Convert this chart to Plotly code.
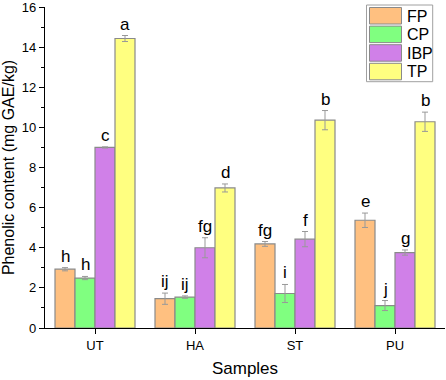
import plotly.graph_objects as go

samples = ["UT", "HA", "ST", "PU"]
series = ["FP", "CP", "IBP", "TP"]
values = {
    "FP": [2.93, 1.46, 4.19, 5.37],
    "CP": [2.49, 1.54, 1.72, 1.12],
    "IBP": [9.00, 4.00, 4.43, 3.76],
    "TP": [14.43, 6.98, 10.36, 10.28],
}
errors = {
    "FP": [0.08, 0.28, 0.12, 0.36],
    "CP": [0.08, 0.06, 0.45, 0.25],
    "IBP": [0.03, 0.50, 0.38, 0.13],
    "TP": [0.15, 0.20, 0.48, 0.48],
}
letters = {
    "FP": ["h", "ij", "fg", "e"],
    "CP": ["h", "ij", "i", "j"],
    "IBP": ["c", "fg", "f", "g"],
    "TP": ["a", "d", "b", "b"],
}
y_ticks = [0, 2, 4, 6, 8, 10, 12, 14, 16]
colors = {"FP": "#FFC080", "CP": "#80FF80", "IBP": "#D080E8", "TP": "#FFFF80"}

W, H = 446, 380
ML, MR, MT, MB = 45, 1, 7, 52
PW, PH = W - ML - MR, H - MT - MB
FONT = "Liberation Sans, Arial"


def px2paper(x, y):
    return (x - ML) / PW, (H - MB - y) / PH


fig = go.Figure()
for s in series:
    fig.add_trace(go.Bar(
        x=samples, y=values[s], name=s,
        marker=dict(color=colors[s], line=dict(color="#8a8a8a", width=1.2)),
        error_y=dict(type="data", array=errors[s], color="#999999", thickness=1, width=3),
    ))

# letter annotations above error bars
offsets = [-1.5, -0.5, 0.5, 1.5]
for k, s in enumerate(series):
    for i, cat in enumerate(samples):
        fig.add_annotation(
            x=i + offsets[k] * 0.2, y=values[s][i] + errors[s][i],
            xref="x", yref="y", text=letters[s][i], showarrow=False,
            yanchor="bottom", yshift=0,
            font=dict(family=FONT, size=17, color="black"),
        )

# custom legend (box + swatches)
x0, y0 = px2paper(366.5, 5)
x1, y1 = px2paper(432.7, 81.7)
fig.add_shape(type="rect", xref="paper", yref="paper", x0=x0, y0=y1, x1=x1, y1=y0,
              line=dict(color="#a0a0a0", width=1), fillcolor="white", layer="above")
for k, s in enumerate(series):
    top = 7.5 + k * 18.6
    sx0, sy0 = px2paper(369.5, top)
    sx1, sy1 = px2paper(401.5, top + 16.5)
    fig.add_shape(type="rect", xref="paper", yref="paper", x0=sx0, y0=sy1, x1=sx1, y1=sy0,
                  line=dict(color="#8a8a8a", width=1), fillcolor=colors[s], layer="above")
    tx, ty = px2paper(404.5, top + 8.5)
    fig.add_annotation(x=tx, y=ty, xref="paper", yref="paper", text=s, showarrow=False,
                       xanchor="left", yanchor="middle",
                       font=dict(family=FONT, size=16, color="black"))

fig.update_layout(
    width=W, height=H,
    margin=dict(l=ML, r=MR, t=MT, b=MB, autoexpand=False),
    paper_bgcolor="white", plot_bgcolor="white",
    barmode="group", bargap=0.2, bargroupgap=0,
    font=dict(family=FONT, size=13, color="black"),
    showlegend=False,
)
fig.update_xaxes(
    type="category", range=[-0.5, 3.5],
    showline=True, linecolor="black", linewidth=1.2,
    ticks="outside", ticklen=5, tickcolor="black",
    minor=dict(ticks="outside", ticklen=3, tickcolor="black", dtick=1),
    title=dict(text="Samples", font=dict(size=17), standoff=10),
    tickfont=dict(size=13),
    showgrid=False, mirror=False, automargin=False,
)
fig.update_yaxes(
    range=[0, 16.001], tickmode="array", tickvals=y_ticks,
    ticktext=[str(v) for v in y_ticks], ticklabeloverflow="allow",
    showline=True, linecolor="black", linewidth=1.2,
    ticks="outside", ticklen=5, tickcolor="black",
    minor=dict(ticks="outside", ticklen=3, tickcolor="black", tickmode="linear", tick0=1, dtick=2),
    title=dict(text="Phenolic content (mg GAE/kg)", font=dict(size=16), standoff=6),
    tickfont=dict(size=13),
    showgrid=False, zeroline=False, automargin=False,
)
fig.write_html("out.html", config={"displayModeBar": False},
               post_script="document.body.style.margin='0';")
